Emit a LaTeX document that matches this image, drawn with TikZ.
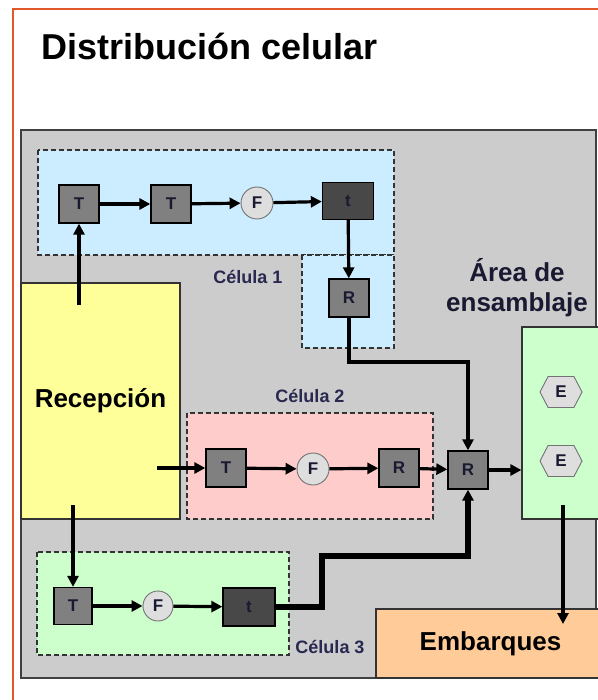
\documentclass[tikz,border=0pt]{standalone}
\usepackage{fontspec}
\setmainfont{Liberation Sans}
\usetikzlibrary{arrows.meta, positioning, shapes.symbols}
\definecolor{frameline}{RGB}{226, 88, 44}
\definecolor{floorgray}{RGB}{204, 204, 204}
\definecolor{machgray}{RGB}{128, 128, 128}
\definecolor{heavygray}{RGB}{72, 72, 72}
\definecolor{ovengray}{RGB}{222, 222, 222}
\definecolor{cellblue}{RGB}{204, 236, 255}
\definecolor{cellpink}{RGB}{255, 204, 204}
\definecolor{cellgreen}{RGB}{204, 255, 204}
\definecolor{recyellow}{RGB}{255, 255, 153}
\definecolor{shiporange}{RGB}{255, 204, 153}
\definecolor{ink}{RGB}{25, 25, 50}
\definecolor{tagblue}{RGB}{40, 40, 80}

\begin{document}
\begin{tikzpicture}[
    x=1pt, y=-1pt,
    >={Triangle[length=11pt, width=11pt]},
    machine/.style={rectangle, draw=black, line width=1.3pt, fill=#1, minimum width=40pt, minimum height=38pt, inner sep=0pt, font=\fontsize{17}{17}\selectfont\bfseries, text=ink},
    oven/.style={circle, draw=black!55, line width=0.9pt, fill=ovengray, minimum size=32pt, inner sep=0pt, font=\fontsize{17}{17}\selectfont\bfseries, text=ink},
    assy/.style={shape=signal, signal to=east and west, signal pointer angle=125, draw=black!55, line width=0.9pt, fill=ovengray, minimum width=42pt, minimum height=31pt, inner sep=0pt, font=\fontsize{17}{17}\selectfont\bfseries, text=ink},
    area/.style={rectangle, draw=black!80, line width=1.2pt, fill=#1, inner sep=0pt, font=\fontsize{26}{26}\selectfont\bfseries},
    cell/.style={draw=black!80, dash pattern=on 5pt off 3pt, line width=1.3pt, fill=#1},
    celltag/.style={font=\fontsize{18}{18}\selectfont\bfseries, text=tagblue},
    flow/.style={->, line width=3.2pt},
  ]
  \useasboundingbox (0,0) rectangle (597,700);

  % Frame and floor
  \draw[frameline, line width=2pt] (13,710) -- (13,9) -- (610,9);
  \node[anchor=west, font=\fontsize{36}{36}\selectfont\bfseries] (title) at (38,46) {Distribución celular};
  \draw[fill=floorgray, draw=black!75, line width=1.5pt] (21,130) rectangle (596,678);

  % Cells
  \draw[cell=cellblue] (38,150) rectangle (394,255);
  \draw[cell=cellblue] (302,255) rectangle (394,348);
  \draw[cell=cellpink] (187,413) rectangle (433,519);
  \draw[cell=cellgreen] (37,552) rectangle (289,655);

  \node[celltag] (tag1) at (248,277) {Célula 1};
  \node[celltag] (tag2) at (310,396) {Célula 2};
  \node[celltag] (tag3) at (330,647) {Célula 3};

  % Areas
  \node[area=recyellow, minimum width=159pt, minimum height=236pt] (rec) at (100.5,401) {Recepción};
  \node[area=cellgreen, minimum width=83pt, minimum height=192pt] (asm) at (563.5,423) {};
  \node[area=shiporange, minimum width=229pt, minimum height=69pt] (ship) at (490.5,643.5) {Embarques};
  \node[align=center, font=\fontsize{26}{30}\selectfont\bfseries, text=ink] (asmtag) at (517,288) {Área de\\ensamblaje};

  % Celula 1
  \node[machine=machgray] (c1t1) at (79,204) {T};
  \node[machine=machgray] (c1t2) at (171,204) {T};
  \node[oven] (c1f) at (257,203) {F};
  \node[machine=heavygray, minimum width=51pt, minimum height=37pt] (c1t) at (348,201) {t};
  \node[machine=machgray] (c1r) at (349,298) {R};

  % Celula 2
  \node[machine=machgray] (c2t) at (226,468) {T};
  \node[oven] (c2f) at (313,469) {F};
  \node[machine=machgray] (c2r) at (399,468) {R};
  \node[machine=machgray] (asmr) at (468,470) {R};

  % Celula 3
  \node[machine=machgray, minimum width=38pt, minimum height=37pt] (c3t) at (73,606) {T};
  \node[oven, minimum size=30pt] (c3f) at (158,606) {F};
  \node[machine=heavygray, minimum width=52pt, minimum height=38pt] (c3tt) at (249,607) {t};

  % Assembly
  \node[assy] (e1) at (561,392) {E};
  \node[assy] (e2) at (561,461) {E};

  % Flows
  \coordinate (recup) at (79,305);
  \coordinate (recright) at (157,468);
  \coordinate (recdown) at (73,505);
  \coordinate (bend1) at (349,362);
  \coordinate (bend3) at (322,556);
  \coordinate (asmout) at (563,505);
  \coordinate (shipin) at (563,624);

  \foreach \s/\e in {recup/c1t1, c1t1/c1t2, c1t2/c1f, c1f/c1t, c1t/c1r, recright/c2t, c2t/c2f, c2f/c2r, c2r/asmr, recdown/c3t, c3t/c3f, c3f/c3tt, asmout/shipin} {
    \draw[flow] (\s) -- (\e);
  }
  \draw[flow] (asmr) -- (asmr -| asm.west);
  \draw[flow, line width=4pt] (c1r) -- (bend1) -| (asmr);
  \draw[flow, line width=5.5pt] (c3tt) -| (bend3) -| (asmr);

\end{tikzpicture}
\end{document}
